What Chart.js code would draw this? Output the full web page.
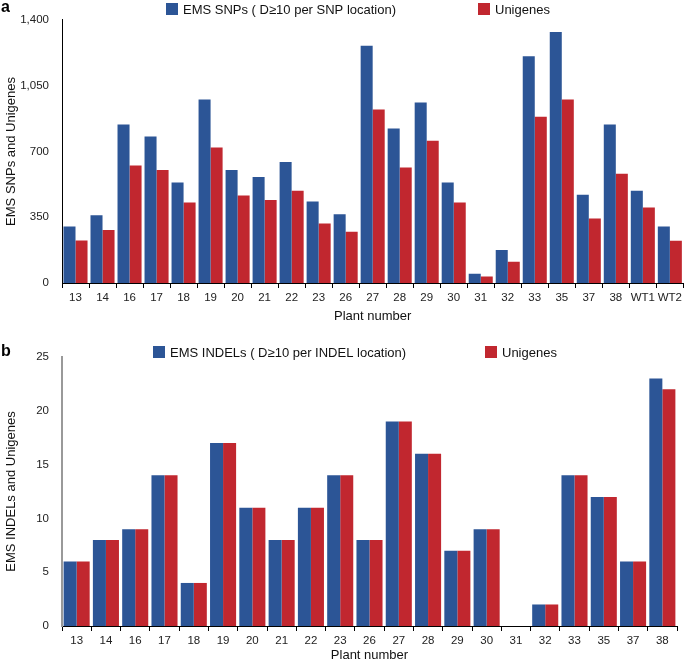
<!DOCTYPE html>
<html>
<head>
<meta charset="utf-8">
<script src="https://cdn.jsdelivr.net/npm/chart.js@4.4.1/dist/chart.umd.min.js"></script>
<style>
  body { margin: 0; background: #fff; }
  .panel { position: absolute; left: 0; width: 685px; height: 332px; }
  #snpWrap { top: 0; }
  #indelWrap { top: 332px; }
</style>
</head>
<body>
<div class="panel" id="snpWrap"><canvas id="snpChart"></canvas></div>
<div class="panel" id="indelWrap"><canvas id="indelChart"></canvas></div>
<script>
const snpPlants = ["13", "14", "16", "17", "18", "19", "20", "21", "22", "23", "26", "27", "28", "29", "30", "31", "32", "33", "35", "37", "38", "WT1", "WT2"];
const snpCounts = [300, 360, 843, 780, 535, 977, 601, 564, 644, 434, 366, 1262, 822, 961, 535, 49, 176, 1207, 1336, 470, 843, 491, 300];
const snpUnigenes = [226, 282, 625, 601, 428, 721, 465, 442, 491, 317, 273, 923, 615, 757, 428, 35, 113, 885, 977, 343, 582, 402, 225];

const indelPlants = ["13", "14", "16", "17", "18", "19", "20", "21", "22", "23", "26", "27", "28", "29", "30", "31", "32", "33", "35", "37", "38"];
const indelCounts = [6, 8, 9, 14, 4, 17, 11, 8, 11, 14, 8, 19, 16, 7, 9, 0, 2, 14, 12, 6, 23];
const indelUnigenes = [6, 8, 9, 14, 4, 17, 11, 8, 11, 14, 8, 19, 16, 7, 9, 0, 2, 14, 12, 6, 22];

const BLUE = "#2c5596";
const RED = "#c1272f";
const FONT = "'Liberation Sans', Arial, sans-serif";

Chart.defaults.font.family = FONT;
Chart.defaults.color = "#222";

// legend + panel letter drawn by hand so the spacing matches
const panelDeco = {
  id: "panelDeco",
  afterDraw(chart, args, opts) {
    const c = chart.ctx;
    c.save();
    c.font = "bold 16px " + FONT;
    c.fillStyle = "#000";
    c.textBaseline = "top";
    c.fillText(opts.letter, 1, opts.letterY);

    c.font = "13px " + FONT;
    c.textBaseline = "middle";
    chart.data.datasets.forEach((ds, i) => {
      const x = opts.items[i];
      c.fillStyle = ds.backgroundColor;
      c.fillRect(x, opts.y - 6, 12, 12);
      c.fillStyle = "#111";
      c.fillText(ds.label, x + 17, opts.y + 1);
    });
    c.restore();
  }
};

function makeChart(id, cfg) {
  return new Chart(document.getElementById(id), {
    type: "bar",
    data: {
      labels: cfg.labels,
      datasets: [
        { label: cfg.names[0], data: cfg.a, backgroundColor: BLUE },
        { label: cfg.names[1], data: cfg.b, backgroundColor: RED }
      ]
    },
    options: {
      responsive: true,
      maintainAspectRatio: false,
      animation: false,
      layout: { padding: { top: cfg.top, right: cfg.right, left: 0, bottom: 0 } },
      datasets: { bar: { categoryPercentage: 0.89, barPercentage: 1, borderWidth: 0 } },
      plugins: {
        legend: { display: false },
        tooltip: { enabled: false },
        panelDeco: cfg.deco
      },
      scales: {
        x: {
          grid: { display: true, drawOnChartArea: false, offset: true, color: "#000", tickLength: 5 },
          border: { display: true, color: "#000", width: 1 },
          ticks: { font: { size: 11.5 }, padding: 3, maxRotation: 0, autoSkip: false },
          title: { display: true, text: "Plant number", font: { size: 13 }, color: "#111", padding: { top: 0, bottom: cfg.titlePad } },
          afterFit(scale) { scale.height = cfg.xHeight; }
        },
        y: {
          min: 0,
          max: cfg.max,
          ticks: { stepSize: cfg.step, font: { size: 11.5 }, padding: 13 },
          grid: { display: false, drawTicks: false },
          border: { display: true, color: cfg.yAxisColor, width: cfg.yAxisWidth },
          title: { display: true, text: cfg.yTitle, font: { size: 13 }, color: "#111", padding: { top: 4, bottom: 0 } },
          afterFit(scale) { scale.width = 62; }
        }
      }
    },
    plugins: [panelDeco]
  });
}

makeChart("snpChart", {
  labels: snpPlants,
  a: snpCounts,
  b: snpUnigenes,
  names: ["EMS SNPs ( D\u226510 per SNP location)", "Unigenes"],
  max: 1400,
  step: 350,
  top: 16,
  right: 1,
  xHeight: 49,
  titlePad: 8,
  yTitle: "EMS SNPs and Unigenes",
  yAxisColor: "#000",
  yAxisWidth: 1,
  deco: { letter: "a", letterY: 0, y: 9, items: [166, 478] }
});

makeChart("indelChart", {
  labels: indelPlants,
  a: indelCounts,
  b: indelUnigenes,
  names: ["EMS INDELs ( D\u226510 per INDEL location)", "Unigenes"],
  max: 25,
  step: 5,
  top: 25,
  right: 8,
  xHeight: 38,
  titlePad: 1,
  yTitle: "EMS INDELs and Unigenes",
  yAxisColor: "#999",
  yAxisWidth: 2,
  deco: { letter: "b", letterY: 12, y: 20, items: [153, 485] }
});
</script>
</body>
</html>
